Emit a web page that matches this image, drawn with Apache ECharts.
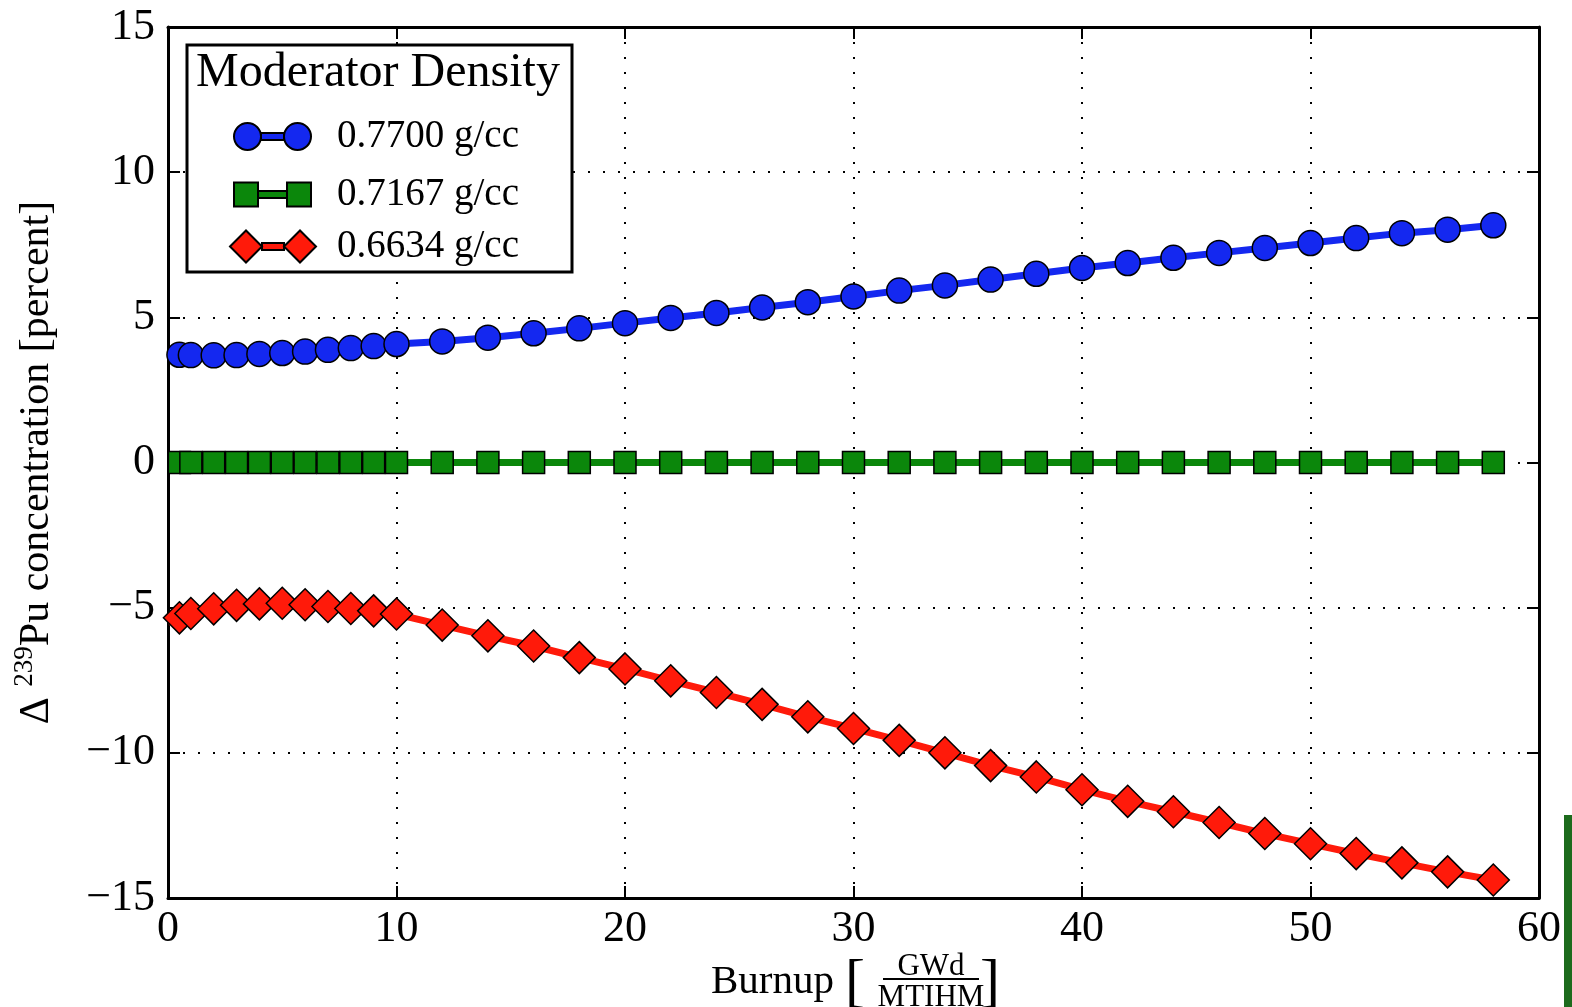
<!DOCTYPE html>
<html>
<head>
<meta charset="utf-8">
<title>Pu-239 concentration vs burnup</title>
<script src="https://cdn.jsdelivr.net/npm/echarts@6/dist/echarts.min.js"></script>
<style>
html, body { margin: 0; padding: 0; background: #fff; }
#main { width: 1572px; height: 1007px; }
</style>
</head>
<body>
<div id="main"></div>
<script>
// burnup steps [GWd/MTIHM]
var burnup = [0, 0.5, 1, 2, 3, 4, 5, 6, 7, 8, 9, 10,
    12, 14, 16, 18, 20, 22, 24, 26, 28, 30, 32, 34,
    36, 38, 40, 42, 44, 46, 48, 50, 52, 54, 56, 58];

// delta Pu-239 [percent] for each moderator density
var dens0770 = [3.72, 3.71, 3.70, 3.69, 3.70, 3.74, 3.77, 3.82, 3.88, 3.94, 4.01, 4.08,
    4.17, 4.30, 4.45, 4.62, 4.80, 4.98, 5.15, 5.34, 5.52, 5.72, 5.92, 6.10,
    6.30, 6.50, 6.70, 6.87, 7.05, 7.22, 7.39, 7.56, 7.73, 7.90, 8.02, 8.17];
var dens07167 = [0, 0, 0, 0, 0, 0, 0, 0, 0, 0, 0, 0,
    0, 0, 0, 0, 0, 0, 0, 0, 0, 0, 0, 0,
    0, 0, 0, 0, 0, 0, 0, 0, 0, 0, 0, 0];
var dens06634 = [-5.50, -5.35, -5.20, -5.04, -4.92, -4.87, -4.85, -4.90, -4.96, -5.03, -5.11, -5.22,
    -5.60, -5.97, -6.32, -6.72, -7.11, -7.52, -7.92, -8.33, -8.76, -9.16, -9.57, -10.00,
    -10.44, -10.83, -11.27, -11.67, -12.03, -12.40, -12.78, -13.13, -13.47, -13.79, -14.10, -14.38];

var seriesNames = ['0.7700 g/cc', '0.7167 g/cc', '0.6634 g/cc'];

var FONT = '"Liberation Serif", "DejaVu Serif", serif';

// marker at burnup 0 sits on the axis and is clipped in the original
function toPairs(ys) {
    var out = [];
    for (var i = 0; i < burnup.length; i++) {
        if (i === 0) {
            out.push({ value: [burnup[i], ys[i]], symbol: 'none' });
        } else {
            out.push([burnup[i], ys[i]]);
        }
    }
    return out;
}

function minusFmt(v) {
    return v < 0 ? '\u2212' + Math.abs(v) : String(v);
}

function makeSeries(name, ys, color, symbol, size) {
    return {
        name: name,
        type: 'line',
        data: toPairs(ys),
        symbol: symbol,
        symbolSize: size,
        lineStyle: { color: color, width: 7 },
        itemStyle: { color: color, borderColor: '#000', borderWidth: 1.5 },
        animation: false
    };
}

function makeLegend(name, icon, left, top, w, h, pad) {
    return {
        data: [{ name: name, icon: icon }],
        left: left,
        top: top,
        padding: 0,
        itemWidth: w,
        itemHeight: h,
        selectedMode: false,
        z: 20,
        textStyle: {
            fontFamily: FONT,
            fontSize: 39,
            color: '#000',
            padding: [0, 0, 0, pad]
        }
    };
}

var axisLine = { show: true, onZero: false, lineStyle: { color: '#000', width: 3 } };
var axisTick = { show: true, inside: true, length: 12, lineStyle: { color: '#000', width: 2 } };
var gridLine = { show: true, lineStyle: { color: '#000', width: 2, type: [2, 13] } };
var tickFont = { fontFamily: FONT, fontSize: 44, color: '#000' };

var chart = echarts.init(document.getElementById('main'));

var option = {
    backgroundColor: '#fff',
    animation: false,
    grid: { left: 168, right: 33, top: 27, bottom: 109 },
    legend: [
        makeLegend(seriesNames[0],
            'path://M0,13.5a13.5,13.5 0 1,0 27,0a13.5,13.5 0 1,0 -27,0zM27,10h23v7h-23zM50,13.5a13.5,13.5 0 1,0 27,0a13.5,13.5 0 1,0 -27,0z',
            233, 117, 77, 27, 21),
        makeLegend(seriesNames[1],
            'path://M0,0h24v24h-24zM24,8.5h29v7h-29zM53,0h24v24h-24z',
            233, 175, 77, 24, 21),
        makeLegend(seriesNames[2],
            'path://M0,16L16,0L32,16L16,32zM32,12.5h22v7h-22zM54,16L70,0L86,16L70,32z',
            229, 227, 86, 32, 16)
    ],
    xAxis: [{
        type: 'value',
        min: 0,
        max: 60,
        interval: 10,
        position: 'bottom',
        axisLine: axisLine,
        axisTick: axisTick,
        axisLabel: Object.assign({ margin: 9 }, tickFont),
        splitLine: gridLine
    }, {
        type: 'value',
        min: 0,
        max: 60,
        interval: 10,
        position: 'top',
        axisLine: axisLine,
        axisTick: axisTick,
        axisLabel: { show: false },
        splitLine: { show: false }
    }],
    yAxis: [{
        type: 'value',
        min: -15,
        max: 15,
        interval: 5,
        position: 'left',
        axisLine: axisLine,
        axisTick: axisTick,
        axisLabel: Object.assign({ margin: 13, formatter: minusFmt }, tickFont),
        splitLine: gridLine,
        name: '\u0394 {s|239}Pu concentration [percent]',
        nameLocation: 'middle',
        nameRotate: 90,
        nameGap: 106,
        nameTextStyle: {
            fontFamily: FONT,
            fontSize: 42,
            color: '#000',
            rich: {
                s: { fontFamily: FONT, fontSize: 27, color: '#000', padding: [0, 0, 24, 0] }
            }
        }
    }, {
        type: 'value',
        min: -15,
        max: 15,
        interval: 5,
        position: 'right',
        axisLine: axisLine,
        axisTick: axisTick,
        axisLabel: { show: false },
        splitLine: { show: false }
    }],
    graphic: [
        // legend frame and title
        {
            type: 'rect',
            z: 10,
            shape: { x: 187, y: 45, width: 385, height: 227 },
            style: { fill: '#fff', stroke: '#000', lineWidth: 3 }
        },
        {
            type: 'text',
            z: 21,
            x: 196,
            y: 73,
            style: { text: 'Moderator Density', font: '48px ' + FONT, fill: '#000', align: 'left', verticalAlign: 'middle' }
        },
        // x axis title: Burnup [GWd / MTIHM]
        {
            type: 'text',
            x: 711,
            y: 982,
            style: { text: 'Burnup', font: '41px ' + FONT, fill: '#000', align: 'left', verticalAlign: 'middle' }
        },
        {
            type: 'text',
            x: 845,
            y: 984,
            style: { text: '[', font: '60px ' + FONT, fill: '#000', align: 'left', verticalAlign: 'middle' }
        },
        {
            type: 'text',
            x: 931,
            y: 967,
            style: { text: 'GWd', font: '31px ' + FONT, fill: '#000', align: 'center', verticalAlign: 'middle' }
        },
        {
            type: 'rect',
            shape: { x: 883, y: 978, width: 96, height: 2 },
            style: { fill: '#000' }
        },
        {
            type: 'text',
            x: 931,
            y: 998,
            style: { text: 'MTIHM', font: '31px ' + FONT, fill: '#000', align: 'center', verticalAlign: 'middle' }
        },
        {
            type: 'text',
            x: 980,
            y: 984,
            style: { text: ']', font: '60px ' + FONT, fill: '#000', align: 'left', verticalAlign: 'middle' }
        },
        // green strip at the right edge of the source image
        {
            type: 'rect',
            shape: { x: 1564, y: 815, width: 8, height: 192 },
            style: { fill: '#1d6b1d' }
        }
    ],
    series: [
        makeSeries(seriesNames[0], dens0770, '#1428f0', 'circle', 25),
        makeSeries(seriesNames[1], dens07167, '#0b870b', 'rect', 22),
        makeSeries(seriesNames[2], dens06634, '#ff1a0a', 'diamond', 32)
    ]
};

chart.setOption(option);
</script>
</body>
</html>
